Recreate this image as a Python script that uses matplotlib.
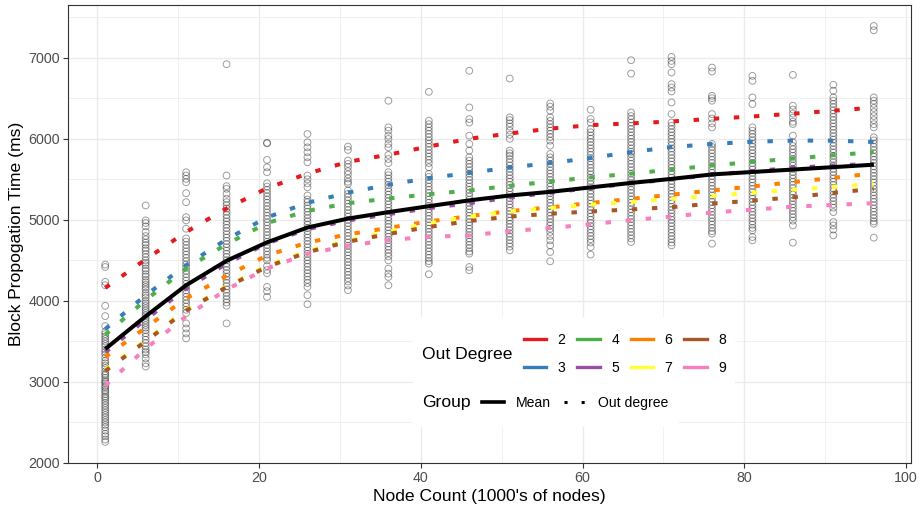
import matplotlib
matplotlib.use('Agg')
import matplotlib.pyplot as plt
from matplotlib.lines import Line2D
from matplotlib.patches import Rectangle
import numpy as np

plt.rcParams['font.family'] = ['Liberation Sans', 'DejaVu Sans']

# node counts (1000's of nodes) at which the network was simulated
node_counts = [1, 6, 11, 16, 21, 26, 31, 36, 41, 46, 51, 56, 61, 66, 71, 76, 81, 86, 91, 96]

# fitted curves per out degree (ms)
deg_2 = [4160, 4512, 4850, 5140, 5390, 5570, 5715, 5803, 5905, 6000, 6065, 6125, 6168, 6190, 6213, 6246, 6275, 6309, 6346, 6385]
deg_3 = [3652, 4070, 4440, 4760, 5030, 5210, 5335, 5432, 5515, 5578, 5645, 5700, 5762, 5835, 5897, 5936, 5963, 5977, 5977, 5960]
deg_4 = [3582, 4010, 4400, 4700, 4960, 5110, 5205, 5263, 5316, 5362, 5420, 5472, 5524, 5570, 5620, 5670, 5715, 5755, 5797, 5835]
deg_5 = [3365, 3770, 4152, 4460, 4710, 4885, 4992, 5070, 5144, 5205, 5275, 5335, 5392, 5450, 5500, 5555, 5600, 5640, 5670, 5690]
deg_6 = [3307, 3670, 4030, 4310, 4560, 4720, 4820, 4900, 4980, 5045, 5108, 5153, 5208, 5258, 5310, 5362, 5412, 5465, 5518, 5572]
deg_7 = [3150, 3510, 3890, 4180, 4435, 4615, 4745, 4855, 4955, 5040, 5104, 5145, 5188, 5220, 5258, 5294, 5335, 5372, 5405, 5440]
deg_8 = [3135, 3500, 3880, 4170, 4420, 4600, 4730, 4825, 4912, 4985, 5040, 5075, 5103, 5128, 5156, 5200, 5237, 5278, 5332, 5383]
deg_9 = [2955, 3410, 3810, 4140, 4400, 4580, 4680, 4750, 4790, 4808, 4860, 4898, 4946, 4996, 5040, 5090, 5125, 5162, 5184, 5205]
mean_line = [3406, 3810, 4193, 4495, 4722, 4905, 5015, 5095, 5168, 5240, 5300, 5345, 5400, 5455, 5505, 5560, 5590, 5620, 5650, 5680]

degree_labels = ['2', '3', '4', '5', '6', '7', '8', '9']
degree_colors = ['#E41A1C', '#377EB8', '#4DAF4A', '#984EA3', '#FF7F00', '#FFFF33', '#A65628', '#F781BF']

# individual runs, one list per node count
runs_01 = [4448, 4418, 4234, 4193, 3939, 3812, 3689, 3620, 3590, 3560, 3530, 3500, 3470, 3440, 3400, 3370, 3340,
           3300, 3260, 3230, 3200, 3170, 3130, 3100, 3080, 3050, 3020, 3000, 2980, 2950, 2930, 2900, 2880, 2850,
           2820, 2800, 2770, 2740, 2710, 2680, 2650, 2620, 2590, 2560, 2530, 2500, 2470, 2440, 2400, 2360, 2330,
           2290, 2260]
runs_06 = [5177, 4993, 4960, 4919, 4850, 4800, 4760, 4720, 4690, 4650, 4620, 4580, 4540, 4500, 4470, 4440, 4400,
           4370, 4330, 4300, 4260, 4230, 4200, 4170, 4140, 4100, 4070, 4040, 4000, 3970, 3940, 3910, 3880, 3850,
           3820, 3790, 3760, 3730, 3700, 3670, 3640, 3600, 3560, 3520, 3480, 3440, 3400, 3370, 3340, 3290, 3230, 3190]
runs_11 = [5587, 5546, 5505, 5464, 5328, 5218, 5033, 4993, 4890, 4770, 4730, 4690, 4650, 4610, 4570, 4530, 4490,
           4450, 4410, 4370, 4330, 4290, 4250, 4210, 4170, 4130, 4090, 4050, 4010, 3970, 3930, 3890, 3850, 3722,
           3660, 3599, 3538]
runs_16 = [6920, 5546, 5415, 5383, 5321, 5260, 5218, 5180, 5140, 5100, 5060, 5020, 4980, 4940, 4900, 4860, 4820,
           4780, 4740, 4700, 4660, 4620, 4580, 4540, 4500, 4460, 4420, 4380, 4340, 4300, 4260, 4220, 4180, 4140,
           4100, 4060, 4020, 3980, 3940, 3722]
runs_21 = [5950, 5943, 5739, 5648, 5587, 5450, 5410, 5370, 5330, 5290, 5250, 5210, 5170, 5130, 5090, 5050, 5010,
           4970, 4930, 4890, 4850, 4810, 4770, 4730, 4690, 4650, 4610, 4570, 4530, 4500, 4430, 4380, 4340, 4172,
           4120, 4049]
runs_26 = [6059, 5956, 5894, 5833, 5771, 5710, 5546, 5500, 5450, 5402, 5300, 5250, 5218, 5177, 5140, 5100, 5060,
           5020, 4980, 4940, 4900, 4860, 4820, 4780, 4740, 4700, 4660, 4620, 4580, 4540, 4500, 4460, 4420, 4380,
           4340, 4300, 4260, 4220, 4172, 4070, 3959]
runs_31 = [5903, 5862, 5731, 5690, 5650, 5600, 5560, 5510, 5470, 5444, 5362, 5320, 5280, 5240, 5200, 5160, 5120,
           5080, 5040, 5000, 4960, 4920, 4880, 4840, 4800, 4760, 4720, 4680, 4640, 4600, 4560, 4520, 4480, 4440,
           4400, 4360, 4320, 4280, 4240, 4190, 4132]
runs_36 = [6469, 6140, 6100, 6038, 5997, 5936, 5894, 5800, 5750, 5700, 5587, 5550, 5510, 5470, 5430, 5390, 5350,
           5310, 5270, 5230, 5190, 5150, 5110, 5070, 5030, 4990, 4950, 4910, 4870, 4830, 4790, 4750, 4710, 4670,
           4630, 4590, 4550, 4500, 4398, 4337, 4295, 4193]
runs_41 = [6579, 6223, 6180, 6140, 6100, 6060, 6020, 5980, 5940, 5900, 5860, 5820, 5780, 5740, 5700, 5648, 5567,
           5530, 5490, 5450, 5410, 5370, 5330, 5290, 5250, 5210, 5170, 5130, 5090, 5050, 5010, 4970, 4930, 4890,
           4850, 4810, 4770, 4730, 4690, 4650, 4610, 4570, 4530, 4490, 4460, 4329]
runs_46 = [6838, 6386, 6243, 6200, 6038, 5936, 5854, 5771, 5730, 5690, 5650, 5610, 5570, 5530, 5490, 5450, 5410,
           5370, 5330, 5290, 5250, 5210, 5170, 5130, 5090, 5050, 5010, 4970, 4930, 4890, 4850, 4810, 4770, 4730,
           4690, 4650, 4610, 4583, 4418, 4378]
runs_51 = [6743, 6264, 6230, 6190, 6150, 6100, 6050, 6000, 5854, 5820, 5790, 5750, 5710, 5670, 5630, 5590, 5550,
           5510, 5470, 5430, 5390, 5350, 5310, 5270, 5230, 5190, 5150, 5110, 5070, 5030, 4990, 4950, 4910, 4870,
           4830, 4790, 4750, 4710, 4670, 4624]
runs_56 = [6435, 6395, 6346, 6264, 6220, 6180, 6140, 6100, 6060, 6020, 5977, 5915, 5813, 5770, 5730, 5690, 5650,
           5610, 5570, 5530, 5490, 5450, 5410, 5370, 5330, 5290, 5250, 5210, 5170, 5130, 5090, 5050, 5010, 4970,
           4930, 4890, 4850, 4800, 4747, 4685, 4603, 4488]
runs_61 = [6358, 6243, 6200, 6120, 6080, 6040, 6000, 5960, 5920, 5880, 5840, 5800, 5760, 5720, 5680, 5640, 5600,
           5560, 5520, 5480, 5440, 5400, 5360, 5320, 5280, 5240, 5200, 5160, 5120, 5080, 5040, 5000, 4960, 4920,
           4880, 4840, 4800, 4760, 4720, 4664, 4571]
runs_66 = [6969, 6804, 6325, 6280, 6240, 6200, 6160, 6120, 6080, 6040, 6000, 5960, 5920, 5880, 5840, 5813, 5770,
           5730, 5690, 5650, 5610, 5570, 5530, 5490, 5450, 5410, 5370, 5330, 5290, 5250, 5210, 5170, 5130, 5090,
           5050, 5010, 4970, 4930, 4890, 4850, 4810, 4770, 4726]
runs_71 = [7010, 6960, 6920, 6817, 6674, 6632, 6583, 6448, 6305, 6200, 6160, 6120, 6080, 6040, 6000, 5960, 5920,
           5880, 5840, 5800, 5760, 5720, 5680, 5640, 5600, 5560, 5520, 5480, 5440, 5400, 5360, 5320, 5280, 5240,
           5200, 5160, 5120, 5080, 5040, 5000, 4960, 4920, 4880, 4840, 4800, 4760, 4720, 4685]
runs_76 = [6878, 6829, 6530, 6500, 6469, 6305, 6250, 6190, 6140, 5936, 5900, 5860, 5820, 5780, 5740, 5700, 5660,
           5620, 5580, 5540, 5500, 5460, 5420, 5380, 5340, 5300, 5260, 5220, 5180, 5140, 5100, 5060, 5020, 4980,
           4940, 4900, 4860, 4829, 4706]
runs_81 = [6776, 6715, 6510, 6428, 6140, 6100, 6060, 6020, 5980, 5940, 5900, 5860, 5820, 5780, 5740, 5700, 5660,
           5620, 5580, 5540, 5500, 5460, 5420, 5380, 5340, 5300, 5260, 5220, 5180, 5140, 5100, 5060, 5020, 4980,
           4940, 4900, 4870, 4787, 4747]
runs_86 = [6788, 6407, 6360, 6310, 6260, 6210, 6182, 6038, 5956, 5910, 5870, 5830, 5790, 5750, 5710, 5670, 5630,
           5590, 5550, 5510, 5470, 5430, 5390, 5350, 5310, 5270, 5230, 5190, 5150, 5110, 5070, 5030, 4990, 4931, 4718]
runs_91 = [6665, 6592, 6510, 6470, 6430, 6390, 6350, 6310, 6270, 6230, 6190, 6150, 6110, 6070, 6030, 5990, 5950,
           5910, 5870, 5830, 5790, 5750, 5710, 5670, 5630, 5590, 5550, 5510, 5470, 5430, 5390, 5350, 5310, 5270,
           5230, 5190, 5150, 5095, 4972, 4930, 4880, 4808]
runs_96 = [7391, 7338, 6510, 6470, 6430, 6380, 6330, 6280, 6230, 6180, 6140, 6017, 5980, 5940, 5900, 5860, 5820,
           5780, 5740, 5700, 5660, 5620, 5580, 5540, 5500, 5460, 5420, 5380, 5340, 5300, 5260, 5220, 5180, 5140,
           5100, 5060, 5020, 4980, 4952, 4780]

all_runs = [runs_01, runs_06, runs_11, runs_16, runs_21, runs_26, runs_31, runs_36, runs_41, runs_46,
            runs_51, runs_56, runs_61, runs_66, runs_71, runs_76, runs_81, runs_86, runs_91, runs_96]
pt_x = np.concatenate([[n] * len(r) for n, r in zip(node_counts, all_runs)])
pt_y = np.concatenate(all_runs)

fig = plt.figure(figsize=(9.19, 5.07), dpi=100)
ax = fig.add_axes([68 / 919, 44 / 507, 843 / 919, 458 / 507])

ax.scatter(pt_x, pt_y, s=24, facecolors='none', edgecolors='black', linewidths=0.7, alpha=0.38, zorder=2)

degree_series = [deg_2, deg_3, deg_4, deg_5, deg_6, deg_7, deg_8, deg_9]
for vals, col in zip(degree_series, degree_colors):
    ax.plot(node_counts, vals, color=col, lw=2.9, linestyle=(0, (1.35, 3.65)), zorder=3)
ax.plot(node_counts, mean_line, color='black', lw=2.9, solid_capstyle='butt', zorder=4)

ax.set_xlim(-3.6, 100.6)
ax.set_ylim(2000, 7650)
ax.set_xticks([0, 20, 40, 60, 80, 100])
ax.set_xticks([10, 30, 50, 70, 90], minor=True)
ax.set_yticks([2000, 3000, 4000, 5000, 6000, 7000])
ax.set_yticks([2500, 3500, 4500, 5500, 6500, 7500], minor=True)
ax.grid(which='major', color='#EBEBEB', lw=1.0)
ax.grid(which='minor', color='#EBEBEB', lw=0.5)
ax.set_axisbelow(True)
ax.tick_params(which='major', direction='out', length=3.5, width=0.8, color='#333333',
               labelcolor='#4D4D4D', labelsize=10.3, pad=2.5)
ax.tick_params(which='minor', length=0)
for sp in ax.spines.values():
    sp.set_color('#333333')
    sp.set_linewidth(0.8)

ax.set_xlabel("Node Count (1000's of nodes)", fontsize=12.6, labelpad=3)
ax.set_ylabel('Block Propogation Time (ms)', fontsize=12.6, labelpad=3)

# legend backgrounds (two stacked boxes inside the panel)
ax.add_patch(Rectangle(((413 - 68) / 843, (463 - 386) / 458), (735 - 413) / 843, 69 / 458,
                       transform=ax.transAxes, facecolor='white', edgecolor='none', zorder=5))
ax.add_patch(Rectangle(((413 - 68) / 843, (463 - 427) / 458), (678 - 413) / 843, 41 / 458,
                       transform=ax.transAxes, facecolor='white', edgecolor='none', zorder=5))

ax.text((422 - 68) / 843, (463 - 354) / 458, 'Out Degree', transform=ax.transAxes, fontsize=12.6,
        ha='left', va='center', zorder=6)
ax.text((422 - 68) / 843, (463 - 403) / 458, 'Group', transform=ax.transAxes, fontsize=12.6,
        ha='left', va='center', zorder=6)

deg_handles = [Line2D([], [], color=c, lw=2.4) for c in degree_colors]
leg1 = ax.legend(deg_handles, degree_labels, ncol=4, loc='center left', frameon=False,
                 bbox_to_anchor=((524 - 68) / 843, (463 - 354) / 458), borderaxespad=0, borderpad=0,
                 fontsize=10.1, handlelength=1.6, handletextpad=0.8, columnspacing=0.85, labelspacing=0.95)
leg1.set_zorder(7)
ax.add_artist(leg1)

grp_handles = [Line2D([], [], color='black', lw=2.6),
               Line2D([], [], color='black', lw=2.2, linestyle=(0, (1, 4.6)))]
leg2 = ax.legend(grp_handles, ['Mean', 'Out degree'], ncol=2, loc='center left', frameon=False,
                 bbox_to_anchor=((482 - 68) / 843, (463 - 403) / 458), borderaxespad=0, borderpad=0,
                 fontsize=10.1, handlelength=1.6, handletextpad=0.8, columnspacing=0.95)
leg2.set_zorder(7)

fig.savefig('out.png', dpi=100)
